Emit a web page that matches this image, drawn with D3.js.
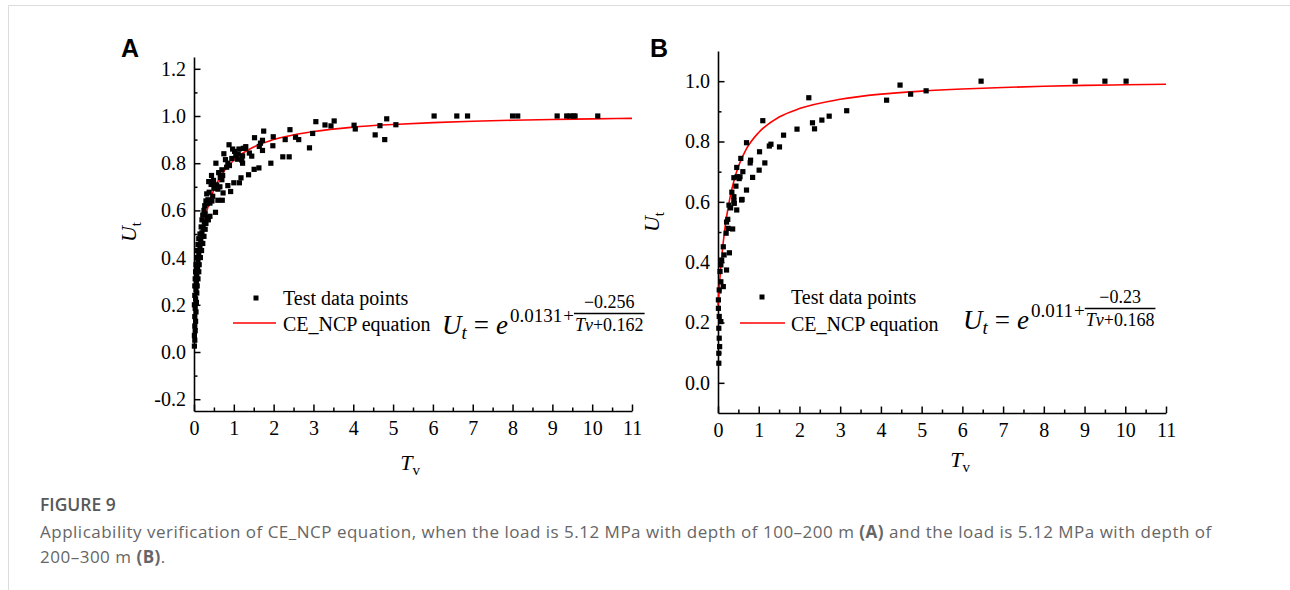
<!DOCTYPE html>
<html>
<head>
<meta charset="utf-8">
<script src="https://cdn.jsdelivr.net/npm/d3@7"></script>
<style>
  body { margin: 0; background: #fff; }
  text { font-family: "Liberation Serif", "Times New Roman", serif; fill: #000; }
</style>
</head>
<body>
<svg id="chart" width="1290" height="590"></svg>
<script>
// ---- data ----
// panel A: test points [Tv, Ut]
var pointsA = [
  [0.55,0.80],[0.57,0.708],[0.50,0.694],[0.60,0.643],[0.71,0.643],[0.44,0.748],[0.49,0.727],
  [0.43,0.71],[0.53,0.705],[0.37,0.722],[0.32,0.67],[0.38,0.677],[0.35,0.645],[0.40,0.631],
  [0.54,0.592],[0.30,0.64],[0.33,0.628],[0.70,0.772],[0.72,0.748],[0.70,0.73],[0.92,0.68],
  [0.85,0.705],[0.73,0.674],[0.79,0.815],[0.85,0.80],[0.89,0.79],[0.82,0.783],[0.88,0.878],
  [1.11,0.839],[1.05,0.831],[1.09,0.817],[1.20,0.813],[1.22,0.80],[1.18,0.738],[1.14,0.717],
  [1.00,0.717],[1.24,0.863],[1.29,0.863],[1.22,0.831],[1.39,0.843],[1.45,0.83],[1.37,0.751],
  [1.63,0.78],[1.51,0.774],[1.52,0.908],[1.72,0.897],[1.67,0.885],[1.72,0.854],[1.64,0.871],
  [1.75,0.936],[1.93,0.80],[1.99,0.912],[1.98,0.874],[2.23,0.827],[2.39,0.827],[2.29,0.90],
  [2.41,0.942],[2.63,0.90],[2.55,0.91],[2.90,0.865],[2.98,0.926],[3.06,0.976],[3.29,0.962],
  [3.44,0.958],[3.52,0.979],[4.02,0.961],[4.05,0.945],[4.55,0.92],[4.67,0.959],[4.79,0.90],
  [4.84,0.988],[5.07,0.963],[6.03,1.0],[6.60,1.0],[6.87,1.0],[8.00,1.0],[8.13,1.0],[9.12,1.0],
  [9.36,1.0],[9.44,1.0],[9.53,1.0],[9.57,1.0],[10.14,1.0],
  [0.62,0.76],[0.66,0.74],[0.60,0.69],[0.65,0.70],[0.47,0.66],[0.45,0.64],[0.27,0.62],[0.25,0.60],
  [0.97,0.86],[1.02,0.85],[0.95,0.82],[1.13,0.86],[1.30,0.87],[0.75,0.84],
  [0.22,0.58],[0.28,0.585],[0.33,0.57],[0.20,0.56],[0.26,0.55],[0.30,0.545],[0.36,0.56],[0.40,0.575],
  [0.18,0.53],[0.23,0.525],[0.28,0.52],[0.15,0.50],[0.20,0.505],[0.25,0.49],[0.12,0.48],[0.17,0.475],
  [0.22,0.46],[0.10,0.455],[0.15,0.445],[0.19,0.43],[0.08,0.43],[0.12,0.415],[0.16,0.40],[0.07,0.40],
  [0.10,0.385],[0.13,0.37],[0.05,0.37],[0.09,0.355],[0.12,0.34],[0.04,0.34],[0.07,0.325],[0.10,0.31],
  [0.03,0.31],[0.06,0.295],[0.08,0.28],[0.02,0.28],[0.05,0.265],[0.07,0.25],[0.02,0.24],[0.04,0.225],
  [0.06,0.21],[0.01,0.20],[0.03,0.185],[0.05,0.17],[0.02,0.15],[0.04,0.13],[0.02,0.11],[0.03,0.09],
  [0.01,0.07],[0.02,0.05],[0.01,0.025]
];
// panel A: CE_NCP curve [Tv, Ut]
var curveA = [
  [0,0.209],[0.01,0.229],[0.02,0.248],[0.03,0.267],[0.05,0.303],[0.1,0.381],[0.15,0.446],[0.2,0.500],
  [0.3,0.582],[0.4,0.642],[0.5,0.688],[0.7,0.753],[1,0.813],[1.5,0.869],[2,0.900],[3,0.934],
  [4,0.953],[5,0.964],[6,0.972],[7,0.978],[8,0.982],[9,0.985],[10,0.988],[11,0.990]
];
// panel B: test points [Tv, Ut]
var pointsB = [
  [2.23,0.945],[3.16,0.902],[2.73,0.884],[2.55,0.871],[2.32,0.862],[2.37,0.842],[1.94,0.841],
  [1.61,0.821],[1.51,0.782],[1.10,0.869],[1.30,0.791],[1.26,0.785],[1.15,0.729],[1.01,0.705],
  [1.02,0.766],[0.85,0.681],[0.80,0.738],[0.79,0.729],[0.70,0.796],[0.70,0.639],[0.56,0.744],
  [0.54,0.683],[0.52,0.677],[0.46,0.714],[0.47,0.683],[0.61,0.70],[0.59,0.608],[0.44,0.652],
  [0.39,0.68],[0.39,0.617],[0.39,0.604],[0.40,0.595],[0.46,0.573],[0.34,0.632],[0.27,0.589],
  [0.31,0.58],[0.24,0.542],[0.25,0.512],[0.36,0.51],[0.58,0.606],[0.21,0.533],[0.20,0.496],
  [0.13,0.451],[0.15,0.424],[0.28,0.431],[0.09,0.407],[0.07,0.391],[0.05,0.369],[0.21,0.374],
  [0.13,0.319],[0.07,0.335],[0.03,0.308],[0.01,0.275],[0.01,0.247],[0.03,0.22],[0.07,0.203],
  [0.02,0.181],[0.03,0.148],[0.04,0.12],[0.02,0.098],[0.02,0.065],
  [4.14,0.937],[4.47,0.987],[4.73,0.957],[5.11,0.968],[6.46,1.0],[8.77,1.0],[9.50,1.0],[10.02,1.0]
];
// panel B: CE_NCP curve [Tv, Ut]
var curveB = [
  [0,0.257],[0.01,0.278],[0.02,0.297],[0.03,0.316],[0.05,0.352],[0.1,0.429],[0.15,0.490],[0.2,0.541],
  [0.3,0.618],[0.4,0.674],[0.5,0.717],[0.7,0.776],[1,0.830],[1.5,0.881],[2,0.909],[3,0.940],
  [4,0.957],[5,0.967],[6,0.974],[7,0.979],[8,0.983],[9,0.986],[10,0.988],[11,0.990]
];
var xTicks = [0,1,2,3,4,5,6,7,8,9,10,11];
var yTicksA = [-0.2,0,0.2,0.4,0.6,0.8,1.0,1.2];
var yTicksB = [0,0.2,0.4,0.6,0.8,1.0];
var formulaA = { c0: '0.0131', num: '0.256', den: '0.162' };
var formulaB = { c0: '0.011',  num: '0.23',  den: '0.168' };

var captionTitle = 'FIGURE 9';
var captionLine1 = [['Applicability verification of CE_NCP equation, when the load is 5.12 MPa with depth of 100–200 m ', false], ['(A)', true], [' and the load is 5.12 MPa with depth of', false]];
var captionLine2 = [['200–300 m ', false], ['(B)', true], ['.', false]];

// ---- layout ----
var panels = [
  { id: 'A', points: pointsA, curve: curveA, yTicks: yTicksA, yMinor: [-0.1,0.1,0.3,0.5,0.7,0.9,1.1],
    yDom: [-0.25, 1.25], f: formulaA,
    left: 194, right: 632, top: 57, bottom: 411,
    label: [121, 57], yTitle: [136, 232], xTitle: [410, 470],
    leg: { mx: 256, my: 298, lx0: 233, lx1: 276, ly: 323, tx: 283, t1: 305, t2: 331 },
    fx: 442, fy: 334 },
  { id: 'B', points: pointsB, curve: curveB, yTicks: yTicksB, yMinor: [0.1,0.3,0.5,0.7,0.9],
    yDom: [-0.1, 1.1], f: formulaB,
    left: 718, right: 1166, top: 51, bottom: 413,
    label: [650, 57], yTitle: [659, 222], xTitle: [960, 467],
    leg: { mx: 762, my: 297, lx0: 740, lx1: 785, ly: 323, tx: 791, t1: 304, t2: 331 },
    fx: 963, fy: 329 }
];

var svg = d3.select('#chart');

// page frame (light rule at top and left)
svg.append('path')
  .attr('d', 'M8.5,590 L8.5,5.5 L1290,5.5')
  .attr('fill', 'none')
  .attr('stroke', '#dcdcdc')
  .attr('stroke-width', 1);

var tickFmt = function (d) { return d3.format('.1f')(d).replace('−', '-'); };

panels.forEach(function (p) {
  var g = svg.append('g').attr('class', 'panel' + p.id);

  var xScale = d3.scaleLinear().domain([0, 11]).range([p.left, p.right]);
  var yScale = d3.scaleLinear().domain(p.yDom).range([p.bottom, p.top]);

  // minor ticks
  var xMinor = d3.range(0.5, 11, 1);
  g.append('g')
    .attr('transform', 'translate(0,' + p.bottom + ')')
    .call(d3.axisBottom(xScale).tickValues(xMinor).tickSize(-3.5).tickFormat(''))
    .call(function (s) { s.select('.domain').remove(); });
  g.append('g')
    .attr('transform', 'translate(' + p.left + ',0)')
    .call(d3.axisLeft(yScale).tickValues(p.yMinor).tickSize(-3.5).tickFormat(''))
    .call(function (s) { s.select('.domain').remove(); });

  // major axes
  var xAxis = g.append('g')
    .attr('transform', 'translate(0,' + p.bottom + ')')
    .call(d3.axisBottom(xScale).tickValues(xTicks).tickSizeInner(-6.5).tickSizeOuter(0).tickPadding(10)
      .tickFormat(d3.format('d')));
  var yAxis = g.append('g')
    .attr('transform', 'translate(' + p.left + ',0)')
    .call(d3.axisLeft(yScale).tickValues(p.yTicks).tickSizeInner(-6.5).tickSizeOuter(0).tickPadding(8)
      .tickFormat(tickFmt));

  g.selectAll('.domain').attr('stroke-width', 1.6).attr('stroke', '#000');
  g.selectAll('.tick line').attr('stroke-width', 1.5).attr('stroke', '#000');
  xAxis.selectAll('.tick text').style('font-family', '"Liberation Serif", serif').style('font-size', '20px').attr('dy', '0.71em');
  yAxis.selectAll('.tick text').style('font-family', '"Liberation Serif", serif').style('font-size', '20px');

  // axis titles
  var yt = g.append('text')
    .attr('transform', 'translate(' + p.yTitle[0] + ',' + p.yTitle[1] + ') rotate(-90)')
    .attr('text-anchor', 'middle')
    .style('font-size', '22px');
  yt.append('tspan').style('font-style', 'italic').text('U');
  yt.append('tspan').attr('dy', 5).style('font-size', '15px').text('t');

  var xt = g.append('text')
    .attr('x', p.xTitle[0]).attr('y', p.xTitle[1])
    .attr('text-anchor', 'middle')
    .style('font-size', '22px');
  xt.append('tspan').style('font-style', 'italic').text('T');
  xt.append('tspan').attr('dy', 5).style('font-size', '15px').text('v');

  // panel letter
  g.append('text')
    .attr('x', p.label[0]).attr('y', p.label[1])
    .style('font-family', '"Liberation Sans", Arial, sans-serif')
    .style('font-weight', 'bold')
    .style('font-size', '25px')
    .text(p.id);

  // fitted curve
  var line = d3.line()
    .x(function (d) { return xScale(d[0]); })
    .y(function (d) { return yScale(d[1]); })
    .curve(d3.curveMonotoneX);
  g.append('path')
    .datum(p.curve)
    .attr('d', line)
    .attr('fill', 'none')
    .attr('stroke', '#ff0000')
    .attr('stroke-width', 1.6);

  // test points
  g.append('g').selectAll('rect')
    .data(p.points)
    .enter().append('rect')
    .attr('x', function (d) { return xScale(d[0]) - 2.6; })
    .attr('y', function (d) { return yScale(d[1]) - 2.6; })
    .attr('width', 5.2)
    .attr('height', 5.2)
    .attr('fill', '#000');

  // legend
  var L = p.leg;
  g.append('rect').attr('x', L.mx - 2.5).attr('y', L.my - 2.5).attr('width', 5).attr('height', 5).attr('fill', '#000');
  g.append('text').attr('x', L.tx).attr('y', L.t1).style('font-size', '20px').text('Test data points');
  g.append('line').attr('x1', L.lx0).attr('x2', L.lx1).attr('y1', L.ly).attr('y2', L.ly)
    .attr('stroke', '#ff0000').attr('stroke-width', 1.6);
  g.append('text').attr('x', L.tx).attr('y', L.t2).style('font-size', '20px').text('CE_NCP equation');

  drawFormula(g, p.fx, p.fy, p.f);
});

// Ut = e^(c0 + (-num)/(Tv + den))
function drawFormula(g, x, y, f) {
  var cx = x;
  var fg = g.append('g').style('font-family', '"Liberation Serif", serif');
  function piece(txt, size, dy, italic) {
    var t = fg.append('text').attr('x', cx).attr('y', y + dy)
      .style('font-size', size + 'px').style('font-style', italic ? 'italic' : 'normal').text(txt);
    cx += t.node().getComputedTextLength();
    return t;
  }
  piece('U', 27, 0, true);
  piece('t', 19, 5, true);
  cx += 7;
  piece('=', 27, 0, false);
  cx += 7;
  piece('e', 27, 0, true);
  cx += 2;
  piece(f.c0, 19, -12, false);
  cx += 1;
  piece('+', 19, -12, false);

  var num = fg.append('text').attr('y', y - 26).style('font-size', '18px').attr('text-anchor', 'middle').text('−' + f.num);
  var den = fg.append('text').attr('y', y - 3).style('font-size', '18px').attr('text-anchor', 'middle');
  den.append('tspan').style('font-style', 'italic').text('Tv');
  den.append('tspan').text('+' + f.den);
  var w = Math.max(num.node().getComputedTextLength(), den.node().getComputedTextLength()) + 2;
  num.attr('x', cx + w / 2);
  den.attr('x', cx + w / 2);
  fg.append('line').attr('x1', cx).attr('x2', cx + w).attr('y1', y - 20.5).attr('y2', y - 20.5)
    .attr('stroke', '#000').attr('stroke-width', 1.3);
}

// caption
var cap = svg.append('g');
cap.append('text').attr('x', 40).attr('y', 511)
  .style('font-family', '"Open Sans", sans-serif').style('font-size', '17.5px').style('font-weight', 600)
  .style('fill', '#585858').text(captionTitle);
[[captionLine1, 538], [captionLine2, 563]].forEach(function (row) {
  var t = cap.append('text').attr('x', 40).attr('y', row[1])
    .style('font-family', '"Open Sans", sans-serif').style('font-size', '17px')
    .style('letter-spacing', '0.5px').style('fill', '#666');
  row[0].forEach(function (seg) {
    t.append('tspan').style('font-weight', seg[1] ? 700 : 400).text(seg[0]);
  });
});
</script>
</body>
</html>
